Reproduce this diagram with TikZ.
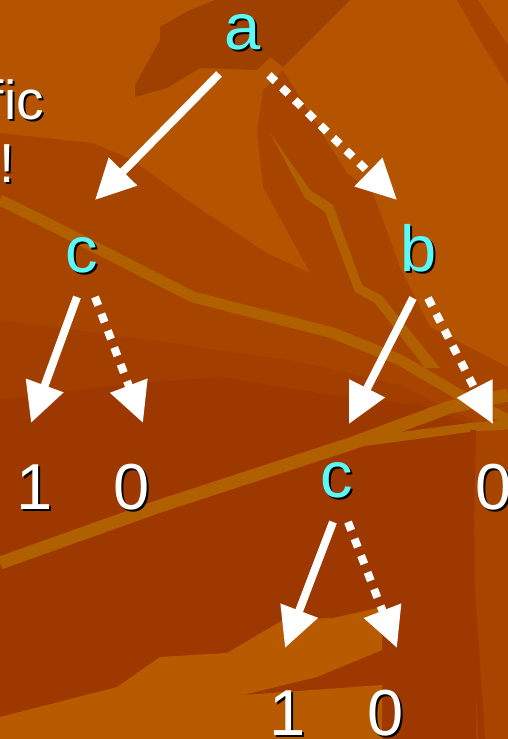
\documentclass[tikz,border=0pt]{standalone}
\usepackage{fontspec}
\setmainfont{Liberation Sans}
\usetikzlibrary{arrows.meta,calc}
\definecolor{bglight}{RGB}{180,84,0}
\definecolor{bgmid}{RGB}{166,68,0}
\definecolor{bgmiddark}{RGB}{161,62,0}
\definecolor{bgdark}{RGB}{156,56,0}
\definecolor{bgstreak}{RGB}{176,96,0}
\definecolor{bgband}{RGB}{184,90,0}
\definecolor{varcol}{RGB}{90,250,250}
\newcommand{\shadowed}[1]{\makebox[0pt][l]{\kern2pt\raisebox{-2pt}[0pt][0pt]{\color{black}#1}}#1}
\tikzset{
  lbl/.style={inner sep=0pt, font=\fontsize{65}{70}\selectfont},
  var/.style={lbl, text=varcol},
  leaf/.style={lbl, text=white},
  hiedge/.style={white, line width=8pt, -{Triangle[length=40pt,width=38pt]}},
  loedge/.style={hiedge, dash pattern=on 9pt off 9pt},
}
\begin{document}
\begin{tikzpicture}[x=1pt,y=-1pt]
\clip (0,0) rectangle (508,739);
% background of the slide
\fill[bgmid] (0,0) rectangle (508,739);
\fill[bglight] (0,0) -- (508,0) -- (508,367) -- (430,327) -- (400,267) -- (373,193) -- (347,173) -- (283,70)
  -- (263,90) -- (257,133) -- (263,187) -- (310,273) -- (267,253) -- (187,200) -- (133,160) -- (93,143) -- (0,133) -- cycle;
\fill[bgmid] (457,0) -- (478,0) -- (508,45) -- (508,85) -- (483,45) -- cycle;
\fill[bgmid!95!black] (135,97) -- (135,85) -- (160,40) -- (160,27) -- (190,10) -- (215,0) -- (350,0) -- (283,67)
  -- (270,57) -- (257,70) -- (200,68) -- (167,88) -- cycle;
\fill[bgmiddark] (0,320) -- (150,340) -- (300,362) -- (400,385) -- (473,420) -- (476,739) -- (0,739) -- cycle;
\fill[bgdark] (0,400) -- (120,385) -- (220,377) -- (330,395) -- (420,405) -- (473,425) -- (476,739) -- (0,739) -- cycle;
\fill[bgstreak] (270,133) -- (310,190) -- (333,205) -- (362,285) -- (382,296) -- (440,368) -- (425,368) -- (375,303)
  -- (355,292) -- (325,212) -- (305,198) -- cycle;
\draw[bgstreak, line width=11pt] (0,200) -- (67,233) -- (193,297) -- (333,333) -- (400,360) -- (460,395) -- (508,420);
\draw[bgstreak, line width=13pt] (0,563) -- (157,507) -- (353,443) -- (450,407) -- (508,395);
\draw[bgstreak, line width=9pt] (353,443) -- (473,427) -- (508,425);
\fill[bgband] (0,717) -- (117,687) -- (160,657) -- (227,653) -- (283,620) -- (333,618) -- (382,607) -- (382,650)
  -- (317,677) -- (243,695) -- (382,685) -- (382,739) -- (0,739) -- cycle;
\draw[bgdark, line width=6pt] (473,430) -- (470,560) -- (482,739);
% text cut off at the left edge
\node[lbl, text=white, font=\fontsize{55}{60}\selectfont, anchor=base east] (txtA) at (44,119) {\shadowed{fic}};
\node[lbl, text=white, font=\fontsize{55}{60}\selectfont, anchor=base east] (txtB) at (15,182) {\shadowed{!}};
% nodes
\node[var] (a) at (243,32) {\shadowed{a}};
\node[var] (c1) at (82,255) {\shadowed{c}};
\node[var] (b) at (419,248) {\shadowed{b}};
\node[leaf] (one1) at (35,487) {\shadowed{1}};
\node[leaf] (zero1) at (132,487) {\shadowed{0}};
\node[var] (c2) at (337,480) {\shadowed{c}};
\node[leaf] (zero2) at (494,487) {\shadowed{0}};
\node[leaf] (one2) at (288,713) {\shadowed{1}};
\node[leaf] (zero3) at (386,713) {\shadowed{0}};
% edges
\draw[hiedge] ($(a)+(-24,42)$) -- ($(c1)+(13,-55)$);
\draw[loedge] ($(a)+(26,43)$) -- ($(b)+(-22,-48)$);
\draw[hiedge] ($(c1)+(-5,42)$) -- ($(one1)+(-4,-64)$);
\draw[loedge] ($(c1)+(13,42)$) -- ($(zero1)+(11,-64)$);
\draw[hiedge] ($(b)+(-6,50)$) -- ($(c2)+(12,-56)$);
\draw[loedge] ($(b)+(9,50)$) -- ($(zero2)+(-1,-63)$);
\draw[hiedge] ($(c2)+(-4,42)$) -- ($(one2)+(-3,-65)$);
\draw[loedge] ($(c2)+(11,42)$) -- ($(zero3)+(11,-65)$);
\end{tikzpicture}
\end{document}
